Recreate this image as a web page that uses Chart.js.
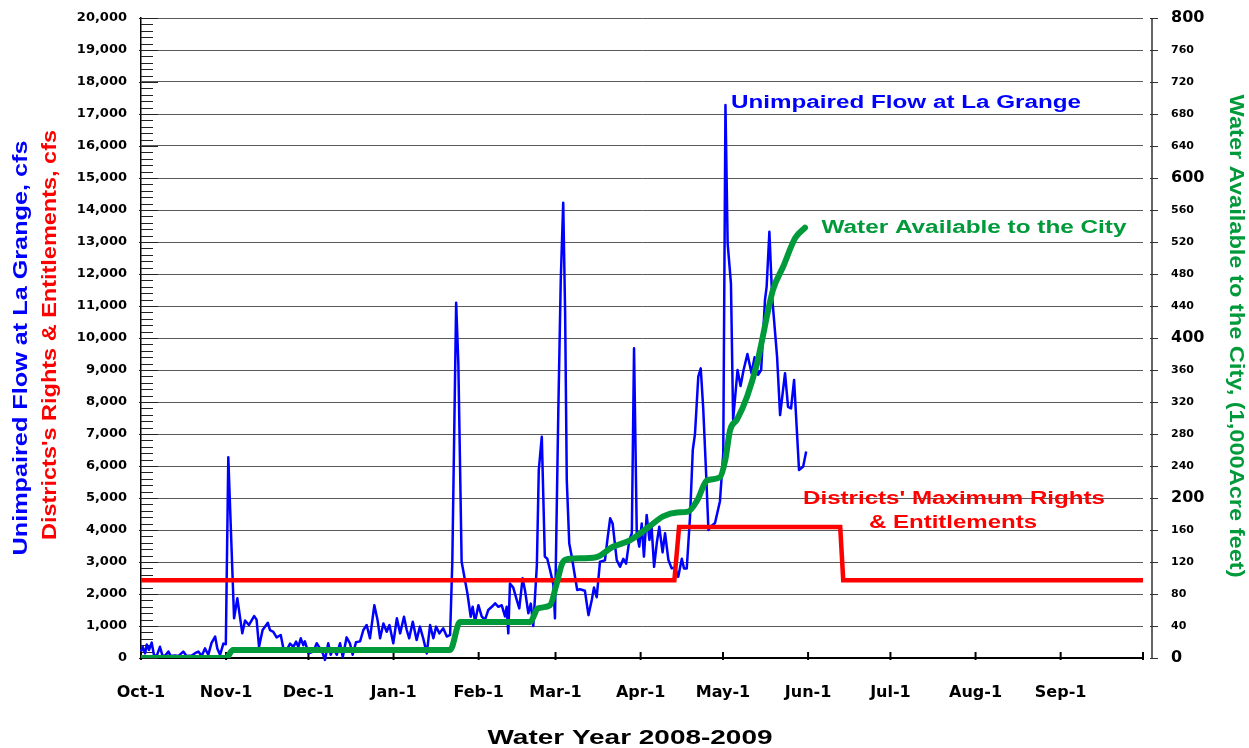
<!DOCTYPE html>
<html>
<head>
<meta charset="utf-8">
<script src="https://cdn.jsdelivr.net/npm/chart.js@4.4.0/dist/chart.umd.min.js"></script>
<style>
  html, body { margin: 0; padding: 0; background: #fff; }
  #wrap { width: 1249px; height: 748px; }
</style>
</head>
<body>
<div id="wrap"><canvas id="chart" width="1249" height="748"></canvas></div>
<script>
// x axis: day of water year (Oct-1 = 0)
const monthDays = [0, 31, 61, 92, 123, 151, 182, 212, 243, 273, 304, 335];
const monthLabels = ['Oct-1', 'Nov-1', 'Dec-1', 'Jan-1', 'Feb-1', 'Mar-1', 'Apr-1', 'May-1', 'Jun-1', 'Jul-1', 'Aug-1', 'Sep-1'];

// Unimpaired Flow at La Grange, cfs
const flowDays = [
  0, 0.6, 1.5, 2.1, 2.9, 3.9, 4.7, 5.7, 6.9, 7.8, 8.7, 10, 10.8, 12.4, 13.6, 15.4, 16.6, 18.5, 19.7, 20.9,
  22.1, 23.3, 24.5, 25.7, 27, 27.8, 28.8, 30, 30.9, 31.8, 33.9, 35.1, 36.9, 37.9, 39.3, 41.2, 42.1, 43, 44.3, 46.2,
  47, 48.2, 49.4, 50.9, 51.8, 53.1, 54.3, 55.5, 56.5, 57.3, 58.2, 59.1, 59.7, 61, 62.8, 64, 65.2, 66.2, 67, 68.2,
  69.1, 70.1, 71.3, 72.5, 73.5, 74.9, 76.1, 77.1, 78.3, 79.8, 81, 82.2, 83.4, 85, 86.2, 87.1, 88.3, 89.5, 90.5, 91.9,
  93.2, 94.4, 95.8, 96.8, 97.7, 99, 100.4, 101.6, 102.8, 104.1, 105.3, 106.5, 107.5, 108.7, 110.1, 111.4, 112.6, 113.4, 114.8, 115.6,
  116.8, 118, 118.9, 120.1, 120.8, 121.7, 122.9, 124.1, 125.3, 126.5, 127.8, 129, 130.2, 131.4, 132.6, 133.2, 133.8, 134.4, 135.6, 136.9,
  137.8, 139, 139.9, 141.1, 142, 142.9, 144.2, 144.9, 146, 147.1, 148, 149, 150.2, 150.8, 152, 152.9, 153.8, 154.5, 155.1, 156,
  156.9, 158.1, 158.9, 159.9, 161.7, 163, 164.2, 165, 166, 167.2, 169, 169.9, 170.9, 171.8, 173.3, 174.5, 175.7, 176.7, 177.9, 178.8,
  179.6, 180.6, 181.5, 182.4, 183.2, 184.2, 185.2, 186, 186.9, 187.9, 188.8, 190, 190.9, 192.1, 193.3, 194.5, 195.7, 197, 197.8, 198.8,
  200, 201, 201.8, 203, 203.9, 204.8, 205.8, 206.7, 207.5, 209.1, 210.9, 212.1, 212.9, 213.7, 214.9, 215.7, 217.3, 218.4, 219.5, 220.9,
  222.4, 223.5, 224.8, 225.9, 227.3, 227.9, 228.9, 229.9, 231.7, 232.8, 234.6, 235.7, 236.8, 237.9, 239.7, 241.2, 242.3
];
const flowCfs = [
  200, 350, 145, 420, 250, 480, 100, 60, 350, 80, 60, 200, 60, 80, 60, 200, 60, 80, 150, 200,
  60, 300, 100, 470, 670, 300, 100, 450, 430, 6270, 1240, 1865, 770, 1170, 1030, 1310, 1200, 350, 875, 1100,
  870, 820, 645, 720, 330, 250, 450, 350, 510, 350, 615, 400, 520, 145, 200, 460, 300, 150, -60, 460,
  100, 300, 100, 460, 30, 645, 460, 100, 490, 520, 875, 1030, 615, 1650, 1170, 615, 1080, 820, 1030, 460,
  1240, 770, 1290, 875, 615, 1135, 560, 980, 615, 145, 1030, 615, 980, 770, 930, 670, 720, 3000, 11100, 9210,
  3010, 2440, 2020, 1290, 1600, 1135, 1650, 1300, 1190, 1500, 1600, 1710, 1600, 1650, 1300, 1600, 770, 2330, 2200, 1810,
  1550, 2490, 2100, 1400, 1700, 1000, 2900, 5875, 6915, 3170, 3100, 2750, 2300, 1240, 7650, 11800, 14230, 10770, 5560, 3580,
  3170, 2540, 2125, 2150, 2100, 1340, 1810, 2200, 1900, 3010, 3050, 3700, 4365, 4200, 3060, 2850, 3100, 2950, 3690, 3900,
  9680, 3900, 3480, 4200, 3170, 4470, 3690, 4100, 2850, 3600, 4100, 3300, 3900, 3070, 2800, 2830, 2540, 3100, 2800, 2800,
  4420, 6500, 7000, 8790, 9050, 7800, 5875, 4000, 4100, 4220, 4900, 6400, 17280, 12960, 11710, 7440, 9000, 8500, 9000, 9500,
  8900, 9400, 8850, 9000, 11190, 11600, 13320, 11290, 9420, 7590, 8900, 7850, 7800, 8690, 5875, 5980, 6450
];

// Districts' Maximum Rights & Entitlements, cfs
const rightsDays = [0, 194.3, 196, 254.7, 255.8, 365];
const rightsCfs = [2430, 2430, 4090, 4090, 2430, 2430];

// Water Available to the City, 1,000 acre feet
const cityDays = [0, 31, 33.5, 112.6, 116.2, 141.7, 144.6, 149, 151.2, 153.7, 156.3, 165.8, 171.9, 178.1, 185.4, 190.2, 195.3, 199.3, 202.6, 206.2,
  210.9, 212.8, 214.6, 217.1, 220.8, 224.4, 225.5, 230.2, 233.9, 238.3, 241.9];
const cityKaf = [0, 0, 10, 10, 45, 45, 62, 66, 90, 120, 124, 126, 139, 147, 165, 177, 182, 183, 197, 222,
  226, 247, 285, 298, 327, 368, 385, 460, 489, 525, 538];

const BLUE = '#0000ff';
const RED = '#ff0000';
const GREEN = '#009a3a';
const TICKFONT = '"DejaVu Sans", sans-serif';

function toXY(xs, ys) {
  return xs.map((d, i) => ({ x: d, y: ys[i] }));
}

// no label overflow padding, so the plot box stays where it is set
function noPad(s) {
  s.paddingTop = 0; s.paddingBottom = 0; s.paddingLeft = 0; s.paddingRight = 0;
}

// draws bold text stretched to a given length
function fitText(ctx, str, cx, cy, len, size, color, rot) {
  ctx.save();
  ctx.font = 'bold ' + size + 'px "Liberation Sans", Arial, sans-serif';
  ctx.fillStyle = color;
  ctx.textAlign = 'center';
  ctx.textBaseline = 'middle';
  const w = ctx.measureText(str).width;
  ctx.translate(cx, cy);
  ctx.rotate(rot || 0);
  ctx.scale(len / w, 1);
  ctx.fillText(str, 0, 0);
  ctx.restore();
}

const decor = {
  id: 'decor',
  beforeDatasetsDraw(chart) {
    const { ctx, chartArea: a, scales: { x, y, y2 } } = chart;
    ctx.save();
    // left axis minor / major ticks
    ctx.strokeStyle = '#222';
    ctx.lineWidth = 1;
    for (let v = 0; v <= 20000; v += 200) {
      const py = Math.round(y.getPixelForValue(v)) + 0.5;
      ctx.beginPath();
      if (v % 1000 === 0) {
        ctx.moveTo(a.left - 2, py); ctx.lineTo(a.left + 17, py);
      } else {
        ctx.moveTo(a.left, py); ctx.lineTo(a.left + 12, py);
      }
      ctx.stroke();
    }
    // month ticks on the bottom axis
    ctx.strokeStyle = '#000';
    ctx.lineWidth = 2;
    monthDays.concat([365]).forEach(d => {
      const px = x.getPixelForValue(d);
      ctx.beginPath();
      ctx.moveTo(px, a.bottom - 6);
      ctx.lineTo(px, a.bottom + 2);
      ctx.stroke();
    });
    // right axis, set a little apart from the plot
    const rx = a.right + 9;
    ctx.strokeStyle = '#333';
    ctx.lineWidth = 1.5;
    ctx.beginPath();
    ctx.moveTo(rx, a.top);
    ctx.lineTo(rx, a.bottom);
    ctx.stroke();
    ctx.lineWidth = 1;
    for (let v = 0; v <= 800; v += 40) {
      const py = Math.round(y2.getPixelForValue(v)) + 0.5;
      ctx.beginPath();
      ctx.moveTo(rx - 2, py);
      ctx.lineTo(rx + 6, py);
      ctx.stroke();
    }
    ctx.restore();
  },
  afterDraw(chart) {
    const { ctx } = chart;
    fitText(ctx, 'Unimpaired Flow at La Grange, cfs', 21, 348, 415, 20, BLUE, -Math.PI / 2);
    fitText(ctx, "Districts's Rights & Entitlements, cfs", 50, 335, 410, 20, RED, -Math.PI / 2);
    fitText(ctx, 'Water Available to the City, (1,000Acre feet)', 1236, 336, 483, 20, GREEN, Math.PI / 2);
    fitText(ctx, 'Unimpaired Flow at La Grange', 906, 103, 350, 18, BLUE);
    fitText(ctx, 'Water Available to the City', 974, 228, 305, 18, GREEN);
    fitText(ctx, "Districts' Maximum Rights", 954, 499, 302, 18, RED);
    fitText(ctx, '& Entitlements', 953, 523, 168, 18, RED);
    fitText(ctx, 'Water Year 2008-2009', 630, 738, 285, 21, '#000');
  }
};

new Chart(document.getElementById('chart'), {
  type: 'line',
  data: {
    datasets: [
      {
        label: 'Water Available to the City',
        data: toXY(cityDays, cityKaf),
        yAxisID: 'y2',
        borderColor: GREEN,
        borderWidth: 6,
        borderCapStyle: 'round',
        borderJoinStyle: 'round',
        cubicInterpolationMode: 'monotone',
        pointRadius: 0,
        order: 0
      },
      {
        label: "Districts' Maximum Rights & Entitlements",
        data: toXY(rightsDays, rightsCfs),
        yAxisID: 'y',
        borderColor: RED,
        borderWidth: 4.5,
        pointRadius: 0,
        order: 1
      },
      {
        label: 'Unimpaired Flow at La Grange',
        data: toXY(flowDays, flowCfs),
        yAxisID: 'y',
        borderColor: BLUE,
        borderWidth: 2.5,
        borderJoinStyle: 'round',
        pointRadius: 0,
        clip: false,
        order: 2
      }
    ]
  },
  options: {
    responsive: false,
    devicePixelRatio: 1,
    animation: false,
    layout: { padding: { top: 18, left: 0, right: 0, bottom: 0 } },
    plugins: {
      legend: { display: false },
      tooltip: { enabled: false },
      title: { display: false }
    },
    scales: {
      x: {
        type: 'linear',
        position: 'bottom',
        min: 0,
        max: 365,
        afterBuildTicks: s => { s.ticks = monthDays.map(v => ({ value: v })); },
        afterFit: s => { s.height = 90; noPad(s); },
        grid: { display: false, drawTicks: false },
        border: { display: true, color: '#000', width: 2 },
        ticks: {
          autoSkip: false,
          maxRotation: 0,
          padding: 25,
          color: '#000',
          font: { family: TICKFONT, weight: 'bold', size: 16 },
          callback: v => monthLabels[monthDays.indexOf(v)] || ''
        }
      },
      y: {
        position: 'left',
        min: 0,
        max: 20000,
        afterFit: s => { s.width = 141; noPad(s); },
        grid: { color: '#5a5a5a', lineWidth: 1, drawTicks: false },
        border: { display: true, color: '#000', width: 1.5 },
        ticks: {
          stepSize: 1000,
          padding: 14,
          color: '#000',
          font: { family: TICKFONT, weight: 'bold', size: 13 },
          callback: v => v.toLocaleString('en-US')
        }
      },
      y2: {
        position: 'right',
        min: 0,
        max: 800,
        afterFit: s => { s.width = 106; noPad(s); },
        grid: { drawOnChartArea: false, drawTicks: false },
        border: { display: false },
        ticks: {
          stepSize: 40,
          padding: 28,
          color: '#000',
          font: c => ({ family: TICKFONT, weight: 'bold', size: (c.tick && c.tick.value % 200 === 0) ? 16 : 11 })
        }
      }
    }
  },
  plugins: [decor]
});
</script>
</body>
</html>
